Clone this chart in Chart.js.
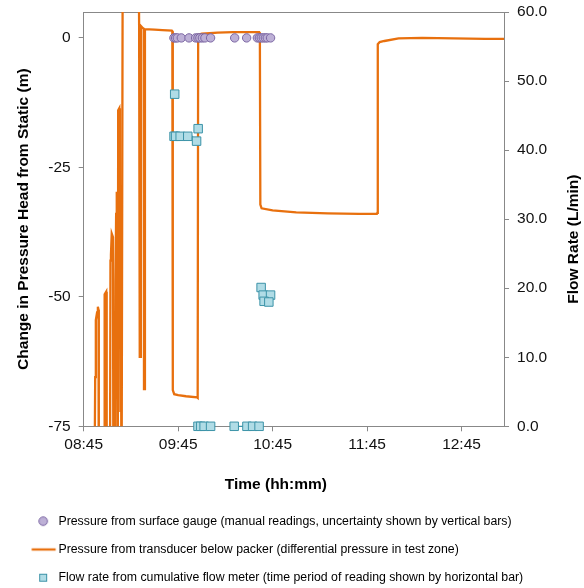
<!DOCTYPE html>
<html>
<head>
<meta charset="utf-8">
<script src="https://cdn.jsdelivr.net/npm/chart.js@4.4.1/dist/chart.umd.min.js"></script>
<style>
  html, body { margin: 0; padding: 0; background: #fff; }
  #wrap { width: 584px; height: 588px; }
</style>
</head>
<body>
<div id="wrap"><canvas id="testChart" width="584" height="588"></canvas></div>
<script>
// time in minutes after midnight
const transTime = [531.9, 532.0, 532.3, 532.6, 532.8, 533.5, 534.0, 534.4, 534.6,
  537.9, 538.3, 539.3, 539.6,
  541.6, 542.0, 542.3, 542.8, 543.6, 543.9,
  544.7, 545.2, 545.6, 546.0, 546.3, 546.5,
  546.7, 546.9, 547.6, 548.0, 548.3, 548.6, 549.0, 549.8,
  559.8, 560.2, 560.5, 560.7, 561.0, 561.3, 562.5, 563.1, 563.3, 563.6, 563.9,
  570, 575, 581.0, 581.3, 581.6, 582.5, 585, 590, 597.0, 597.4, 597.7,
  600, 605, 610, 620, 630, 636.5, 636.9, 637.2, 638, 645, 660, 680, 700,
  711.2, 711.5, 711.8, 713, 716, 725, 740, 760, 780, 792.3];
const transHead = [-100, -80, -65.5, -65, -54.5, -53, -51.9, -52.5, -100,
  -100, -49.5, -49.0, -100,
  -100, -43, -41.9, -37.8, -38.5, -100,
  -100, -47, -34, -29.7, -31, -100,
  -100, -14, -13.6, -30, -72, -29.7, -100, 20,
  20, 2.7, 2.5, -61.6, -61.6, 2.3, 1.9, 1.8, -67.8, -67.8, 1.7,
  1.6, 1.5, 1.4, 1.3, -68.0, -68.8, -69.0, -69.2, -69.4, -69.5, 0.6,
  0.8, 0.9, 1.0, 1.1, 1.1, 1.1, 0.9, -32.2, -32.9, -33.3, -33.7, -33.9, -34.0,
  -34.0, -33.8, -1.2, -0.8, -0.6, -0.1, 0.0, -0.1, -0.2, -0.2];

const gaugeTime = [582.3, 583.4, 584.5, 587.0, 591.9, 596.1, 597.6, 598.8, 600.4, 602.0,
  605.6, 620.9, 628.5, 635.3, 636.6, 637.8, 639.1, 640.4, 641.6, 643.7];
const gaugeHead = [0, 0, 0, 0, 0, 0, 0, 0, 0, 0, 0, 0, 0, 0, 0, 0, 0, 0, 0, 0];

const flowTime = [582.8, 582.4, 583.4, 586.3, 591.1, 596.7, 597.7,
  597.6, 599.3, 601.5, 605.6, 620.6, 628.7, 632.3, 636.4,
  637.7, 639.0, 643.7, 639.6, 642.6];
const flowRate = [48.1, 42.0, 42.0, 42.0, 42.0, 41.3, 43.1,
  0, 0, 0, 0, 0, 0, 0, 0,
  20.1, 19.0, 19.0, 18.1, 18.0];

// reading periods (horizontal bars)
const barStart = [581.3, 596.4, 618.0];
const barEnd = [594.5, 608.2, 639.3];
const barRate = [42.0, 0, 0];

const timeTicks = [525, 585, 645, 705, 765];
const headTicks = [-75, -50, -25, 0];

const labels = [
  'Pressure from surface gauge (manual readings, uncertainty shown by vertical bars)',
  'Pressure from transducer below packer (differential pressure in test zone)',
  'Flow rate from cumulative flow meter (time period of reading shown by horizontal bar)'
];

const ORANGE = '#e8700e';
const GAUGE_FILL = '#bdb0d6', GAUGE_EDGE = '#7b66a3';
const FLOW_FILL = '#b0dce6', FLOW_EDGE = '#3c93a8';
const FONT = '"Liberation Sans", Arial, sans-serif';

const toXY = (xs, ys) => xs.map((x, i) => ({ x: x, y: ys[i] }));

const barPoints = [];
barStart.forEach((s, i) => {
  barPoints.push({ x: s, y: barRate[i] }, { x: barEnd[i], y: barRate[i] }, { x: barEnd[i] + 0.1, y: null });
});

function hhmm(v) {
  const h = Math.floor(v / 60), m = Math.round(v - h * 60);
  return String(h).padStart(2, '0') + ':' + String(m).padStart(2, '0');
}

// small legend symbols
function legendSymbol(kind) {
  const c = document.createElement('canvas');
  c.width = 60; c.height = 14;
  const g = c.getContext('2d');
  if (kind === 'circle') {
    g.beginPath(); g.arc(39, 7, 4.3, 0, Math.PI * 2);
    g.fillStyle = GAUGE_FILL; g.fill();
    g.strokeStyle = GAUGE_EDGE; g.lineWidth = 1; g.stroke();
  } else if (kind === 'line') {
    g.beginPath(); g.moveTo(27.5, 7); g.lineTo(51.5, 7);
    g.strokeStyle = ORANGE; g.lineWidth = 2.3; g.stroke();
  } else {
    g.fillStyle = FLOW_FILL; g.fillRect(35, 3, 8, 8);
    g.strokeStyle = FLOW_EDGE; g.lineWidth = 1; g.strokeRect(35.5, 3.5, 7, 7);
  }
  return c;
}
const symbols = [legendSymbol('circle'), legendSymbol('line'), legendSymbol('rect')];

const topFrame = {
  id: 'topFrame',
  beforeDatasetsDraw(chart) {
    const a = chart.chartArea, ctx = chart.ctx;
    ctx.save();
    ctx.strokeStyle = '#888';
    ctx.lineWidth = 1;
    ctx.beginPath();
    ctx.moveTo(a.left, a.top + 0.5);
    ctx.lineTo(a.right, a.top + 0.5);
    ctx.stroke();
    ctx.restore();
  }
};

// x title and right title (right one reads bottom to top)
const axisTitles = {
  id: 'axisTitles',
  afterDraw(chart) {
    const a = chart.chartArea, ctx = chart.ctx;
    const xs = chart.scales.x, ys = chart.scales.y1;
    ctx.save();
    ctx.fillStyle = '#000';
    ctx.font = 'bold 15.5px ' + FONT;
    ctx.textAlign = 'center';
    ctx.textBaseline = 'middle';
    ctx.fillText(xs.options.title.text, (a.left + a.right) / 2 - 18, xs.bottom - 14);
    ctx.translate(ys.right - 10.7, (a.top + a.bottom) / 2 + 20);
    ctx.rotate(-Math.PI / 2);
    ctx.fillText(ys.options.title.text, 0, 0);
    ctx.restore();
  }
};

const tickFont = { family: FONT, size: 15.5 };
const sideTickFont = { family: FONT, size: 15.5, lineHeight: 0.5 };
const titleFont = { family: FONT, size: 15.5, weight: 'bold' };

new Chart(document.getElementById('testChart'), {
  type: 'line',
  data: {
    datasets: [
      {
        label: labels[0],
        data: toXY(gaugeTime, gaugeHead),
        yAxisID: 'y',
        showLine: false,
        pointStyle: 'circle',
        pointRadius: 4.2,
        pointBackgroundColor: GAUGE_FILL,
        pointBorderColor: GAUGE_EDGE,
        pointBorderWidth: 1,
        order: 0
      },
      {
        label: labels[2],
        data: toXY(flowTime, flowRate),
        yAxisID: 'y1',
        showLine: false,
        pointStyle: 'rect',
        pointRadius: 6,
        pointBackgroundColor: FLOW_FILL,
        pointBorderColor: FLOW_EDGE,
        pointBorderWidth: 1,
        clip: false,
        order: 1
      },
      {
        label: 'bars',
        data: barPoints,
        yAxisID: 'y1',
        borderColor: FLOW_EDGE,
        borderWidth: 1.3,
        pointRadius: 0,
        spanGaps: false,
        clip: false,
        order: 2
      },
      {
        label: labels[1],
        data: toXY(transTime, transHead),
        yAxisID: 'y',
        borderColor: ORANGE,
        borderWidth: 2.3,
        pointRadius: 0,
        tension: 0,
        order: 3
      }
    ]
  },
  options: {
    responsive: false,
    animation: false,
    devicePixelRatio: 1,
    layout: { padding: { top: 12, right: 0, left: 0, bottom: 0 } },
    scales: {
      x: {
        type: 'linear',
        min: 525,
        max: 792,
        afterBuildTicks: s => { s.ticks = timeTicks.map(v => ({ value: v })); },
        ticks: { callback: v => hhmm(v), color: '#111', font: tickFont, padding: 3.7, maxRotation: 0 },
        grid: { drawOnChartArea: false, tickLength: 5, color: '#888' },
        border: { color: '#888' },
        title: { display: true, text: 'Time (hh:mm)', color: 'rgba(0,0,0,0)', font: titleFont, padding: { top: 18.4, bottom: 4.7 } }
      },
      y: {
        position: 'left',
        min: -75,
        max: 5,
        afterBuildTicks: s => { s.ticks = headTicks.map(v => ({ value: v })); },
        ticks: { color: '#111', font: sideTickFont, padding: 8 },
        grid: { drawOnChartArea: false, tickLength: 5, color: '#888' },
        border: { color: '#888' },
        title: { display: true, text: 'Change in Pressure Head from Static (m)', color: '#000', font: titleFont, padding: { top: 14.7, bottom: 7 } }
      },
      y1: {
        position: 'right',
        min: 0,
        max: 60,
        ticks: { stepSize: 10, callback: v => v.toFixed(1), color: '#111', font: sideTickFont, padding: 8 },
        grid: { drawOnChartArea: false, tickLength: 5, color: '#888' },
        border: { color: '#888' },
        title: { display: true, text: 'Flow Rate (L/min)', color: 'rgba(0,0,0,0)', font: titleFont, padding: { top: 1.4, bottom: 8.8 } }
      }
    },
    plugins: {
      tooltip: { enabled: false },
      legend: {
        position: 'bottom',
        align: 'start',
        maxHeight: 89,
        labels: {
          usePointStyle: true,
          pointStyleWidth: 36.3,
          padding: 16,
          color: '#222',
          font: { family: FONT, size: 12.3 },
          generateLabels: () => [0, 1, 2].map(i => ({
            text: labels[i],
            pointStyle: symbols[i],
            fillStyle: 'transparent',
            strokeStyle: 'transparent',
            lineWidth: 0,
            hidden: false
          }))
        }
      }
    }
  },
  plugins: [topFrame, axisTitles]
});
</script>
</body>
</html>
